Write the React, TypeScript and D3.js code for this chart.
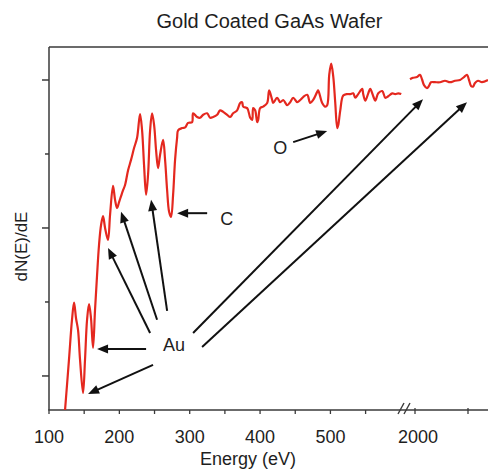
import React from "react";
import * as d3 from "d3";

// Spectrum, low-energy segment: energy (eV) and dN(E)/dE (arbitrary units)
const lowEnergy = [
  122.8, 128.4, 132.7, 135.6, 138.4, 141.3, 144.1, 148.4, 151.2, 154.1, 156.9, 159.7, 162.6, 165.4,
  168.3, 171.1, 174.0, 176.8, 179.7, 183.9, 186.8, 191.0, 193.9, 196.7, 199.6, 202.4, 205.3, 208.1,
  212.4, 216.6, 220.9, 225.2, 229.4, 232.3, 235.1, 238.0, 240.8, 243.7, 246.5, 249.4, 252.2, 255.0,
  257.9, 262.2, 265.0, 267.9, 270.7, 273.5, 276.4, 279.2, 282.1, 283.5, 289.2, 293.5, 297.7, 303.4,
  304.8, 310.5, 314.8, 319.1, 324.8, 329.0, 333.3, 339.0, 343.2, 347.5, 353.2, 357.5, 361.7, 367.4,
  371.7, 374.5, 376.0, 381.7, 386.0, 388.8, 390.2, 393.0, 395.9, 397.3, 400.1, 404.4, 410.1, 412.9,
  417.2, 418.6, 424.3, 428.6, 432.9, 438.6, 442.8, 447.1, 452.8, 457.1, 461.3, 467.0, 471.3, 475.5,
  481.2, 482.6, 488.3, 492.6, 495.4, 498.3, 501.1, 504.0, 506.8, 509.7, 511.1, 514.0, 518.2, 523.9,
  528.2, 532.4, 535.3, 539.5, 545.2, 546.6, 549.5, 553.8, 556.6, 560.9, 563.7, 568.0, 573.7, 578.0,
  582.2, 587.9, 592.2, 596.4, 600.7,
];
const lowSignal = [
  0.54, 1.22, 1.76, 1.99, 1.78, 1.62, 1.22, 0.77, 1.22, 1.76, 1.97, 1.78, 1.38, 1.89,
  2.36, 2.77, 3.04, 3.16, 3.0, 2.84, 3.18, 3.57, 3.38, 3.27, 3.35, 3.43, 3.51, 3.58,
  3.78, 3.92, 4.08, 4.22, 4.54, 4.32, 3.85, 3.45, 3.72, 4.32, 4.55, 4.39, 4.05, 3.81,
  3.99, 4.19, 3.92, 3.51, 3.22, 3.15, 3.45, 3.92, 4.22, 4.32, 4.35, 4.36, 4.42, 4.43,
  4.55, 4.5, 4.49, 4.53, 4.55, 4.49, 4.5, 4.53, 4.59, 4.57, 4.53, 4.5, 4.55, 4.59,
  4.69, 4.70, 4.64, 4.62, 4.49, 4.46, 4.62, 4.59, 4.43, 4.46, 4.62, 4.64, 4.69, 4.86,
  4.73, 4.69, 4.76, 4.70, 4.73, 4.66, 4.70, 4.76, 4.70, 4.73, 4.77, 4.80, 4.69, 4.73,
  4.84, 4.86, 4.69, 4.64, 4.66, 5.07, 5.22, 5.05, 4.70, 4.35, 4.39, 4.59, 4.79, 4.81,
  4.81, 4.82, 4.76, 4.81, 4.88, 4.81, 4.72, 4.82, 4.88, 4.78, 4.72, 4.82, 4.85, 4.76,
  4.78, 4.82, 4.81, 4.82, 4.81,
];

// Spectrum, high-energy segment (after the axis break)
const highEnergy = [
  1990.6, 1996.2, 2003.8, 2009.4, 2013.2, 2017.0, 2022.6, 2026.4, 2030.2, 2037.7, 2047.2, 2056.6,
  2066.0, 2075.5, 2084.9, 2092.5, 2098.1, 2101.9, 2105.7, 2109.4, 2113.2, 2118.9, 2126.4, 2137.7,
];
const highSignal = [
  5.01, 5.03, 5.04, 5.07, 5.01, 4.93, 4.89, 4.92, 4.97, 4.97, 4.97, 4.99,
  4.97, 4.99, 5.0, 5.04, 5.07, 5.0, 4.92, 4.91, 4.96, 4.99, 4.97, 5.0,
];

const lowTickValues = [100, 150, 200, 250, 300, 350, 400, 450, 500, 550];
const lowTickLabels = [100, 200, 300, 400, 500];
const highTickValues = [2000, 2100];
const highTickLabels = [2000];
const yTickValues = [1, 2, 3, 4, 5];
const yMajorTicks = [1, 3, 5];

// Annotation arrows (tail in low-energy coordinates; tip on low or high segment)
const arrowTailE = [247.9, 238.0, 243.7, 253.6, 267.9, 304.8, 317.6, 324.8, 447.1];
const arrowTailI = [1.15, 1.365, 1.58, 1.76, 1.88, 1.58, 1.39, 3.2, 4.16];
const arrowTipE = [155.5, 168.3, 183.9, 202.4, 245.1, 2015.1, 2098.1, 282.1, 495.4];
const arrowTipI = [0.757, 1.365, 2.73, 3.22, 3.38, 4.74, 4.7, 3.2, 4.31];
const arrowTipHigh = [false, false, false, false, false, true, true, false, false];

const labelText = ["Au", "C", "O"];
const labelE = [277.8, 352.5, 428.6];
const labelI = [1.338, 3.04, 4.0];

const W = 488;
const H = 470;
const left = 49;
const top = 47;
const bottom = 410;
const breakX = 405;
const right = 488;

const xLow = d3.scaleLinear().domain([100, 606]).range([left, breakX]);
const xHigh = d3.scaleLinear().domain([2000, 2100]).range([415, 468]);
const y = d3.scaleLinear().domain([0.54, 5.446]).range([bottom, top]);

const font = "'Liberation Sans', Arial, Helvetica, sans-serif";
const red = "#e4281f";
const axisColor = "#3a3a3a";

function arrowPath(x1: number, y1: number, x2: number, y2: number) {
  const len = 11;
  const half = 4.5;
  const dx = x2 - x1;
  const dy = y2 - y1;
  const d = Math.hypot(dx, dy);
  const ux = dx / d;
  const uy = dy / d;
  const bx = x2 - ux * len;
  const by = y2 - uy * len;
  const px = -uy;
  const py = ux;
  return {
    shaft: [bx + ux * 1, by + uy * 1],
    head: `M${x2},${y2}L${bx + px * half},${by + py * half}L${bx - px * half},${by - py * half}Z`,
  };
}

export default function App() {
  const lowLine = d3
    .line<number>()
    .x((_, i) => xLow(lowEnergy[i]))
    .y((v) => y(v))
    .curve(d3.curveCatmullRom.alpha(0.5))(lowSignal);
  const highLine = d3
    .line<number>()
    .x((_, i) => xHigh(highEnergy[i]))
    .y((v) => y(v))
    .curve(d3.curveCatmullRom.alpha(0.5))(highSignal);

  return (
    <svg
      width={W}
      height={H}
      style={{ position: "absolute", left: 0, top: 0, background: "#fff" }}
      fontFamily={font}
    >
      <rect width={W} height={H} fill="#fff" />
      <text x={269.5} y={28} textAnchor="middle" fontSize={20} fill="#1e1e1e">
        Gold Coated GaAs Wafer
      </text>

      {/* frame */}
      <line x1={left} x2={right} y1={top} y2={top} stroke={axisColor} strokeWidth={1.5} />
      <line x1={left} x2={left} y1={top} y2={bottom} stroke={axisColor} strokeWidth={1.5} />
      <line x1={left - 0.75} x2={right} y1={bottom} y2={bottom} stroke={axisColor} strokeWidth={1.5} />

      {/* y ticks */}
      {yTickValues.map((t) => (
        <line
          key={"yt" + t}
          x1={left - (yMajorTicks.includes(t) ? 7 : 4)}
          x2={left}
          y1={y(t)}
          y2={y(t)}
          stroke={axisColor}
          strokeWidth={1.5}
        />
      ))}

      {/* x ticks */}
      {lowTickValues.map((t) => (
        <line key={"xl" + t} x1={xLow(t)} x2={xLow(t)} y1={bottom} y2={bottom + 4} stroke={axisColor} strokeWidth={1.3} />
      ))}
      {highTickValues.map((t) => (
        <line key={"xh" + t} x1={xHigh(t)} x2={xHigh(t)} y1={bottom - 2} y2={bottom + 4} stroke={axisColor} strokeWidth={1.3} />
      ))}
      {lowTickLabels.map((t) => (
        <text key={"ll" + t} x={xLow(t)} y={443} textAnchor="middle" fontSize={18} fill="#1e1e1e">
          {t}
        </text>
      ))}
      {highTickLabels.map((t) => (
        <text key={"hl" + t} x={xHigh(t) + 3} y={443} textAnchor="middle" fontSize={18} fill="#1e1e1e">
          {t}
        </text>
      ))}

      {/* axis break marks */}
      <line x1={breakX - 7} y1={bottom + 4} x2={breakX - 1} y2={bottom - 7} stroke={axisColor} strokeWidth={1.4} />
      <line x1={breakX - 1} y1={bottom + 4} x2={breakX + 5} y2={bottom - 7} stroke={axisColor} strokeWidth={1.4} />

      <text x={248} y={465} textAnchor="middle" fontSize={18} fill="#1e1e1e">
        Energy (eV)
      </text>
      <text
        transform={`translate(27,${(top + bottom) / 2 + 18}) rotate(-90)`}
        textAnchor="middle"
        fontSize={17}
        fill="#1e1e1e"
      >
        dN(E)/dE
      </text>

      {/* spectrum */}
      <path d={lowLine ?? ""} fill="none" stroke={red} strokeWidth={2.2} strokeLinejoin="round" />
      <path d={highLine ?? ""} fill="none" stroke={red} strokeWidth={2.2} strokeLinejoin="round" />

      {/* arrows */}
      {arrowTailE.map((e, i) => {
        const x1 = xLow(e);
        const y1 = y(arrowTailI[i]);
        const x2 = arrowTipHigh[i] ? xHigh(arrowTipE[i]) : xLow(arrowTipE[i]);
        const y2 = y(arrowTipI[i]);
        const a = arrowPath(x1, y1, x2, y2);
        return (
          <g key={"ar" + i}>
            <line x1={x1} y1={y1} x2={a.shaft[0]} y2={a.shaft[1]} stroke="#111" strokeWidth={2} />
            <path d={a.head} fill="#111" />
          </g>
        );
      })}
      {labelText.map((t, i) => (
        <text key={"lb" + t} x={xLow(labelE[i])} y={y(labelI[i])} textAnchor="middle" fontSize={18} fill="#1e1e1e">
          {t}
        </text>
      ))}
    </svg>
  );
}
